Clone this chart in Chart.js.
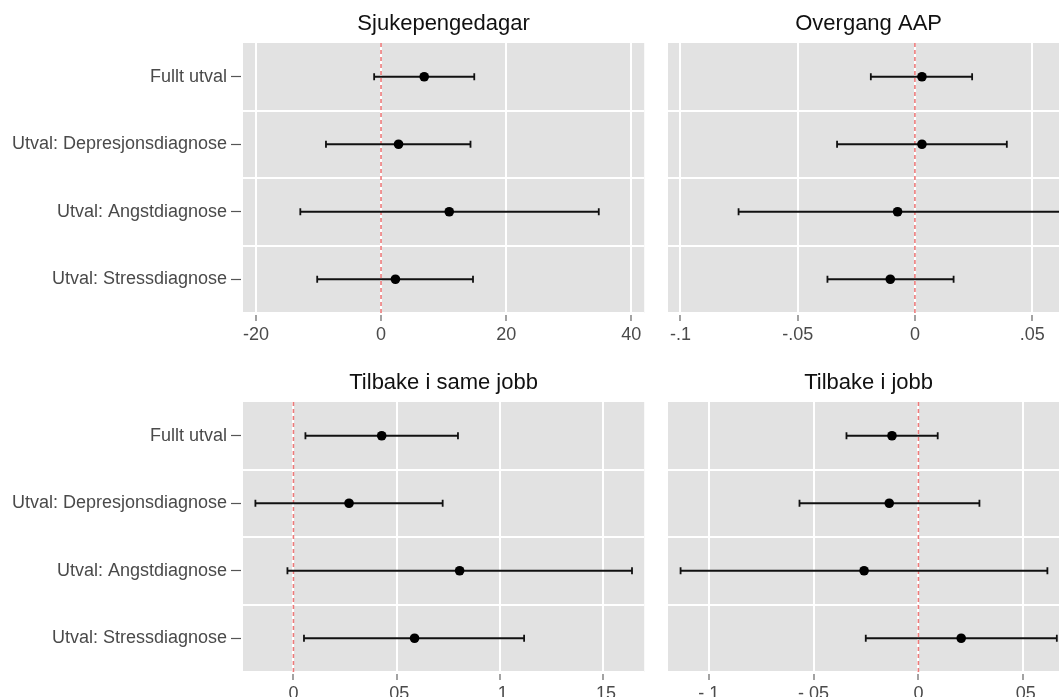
<!DOCTYPE html>
<html>
<head>
<meta charset="utf-8">
<script src="https://cdn.jsdelivr.net/npm/chart.js@4/dist/chart.umd.min.js"></script>
<style>
  html, body { margin: 0; padding: 0; background: #fff; width: 1059px; height: 697px; overflow: hidden; }
  .panel { position: absolute; }
</style>
</head>
<body>
<div class="panel" style="left:0px;top:0px;"><canvas id="c1" width="650" height="345"></canvas></div>
<div class="panel" style="left:650px;top:0px;"><canvas id="c2" width="425" height="345"></canvas></div>
<div class="panel" style="left:0px;top:359px;"><canvas id="c3" width="650" height="345"></canvas></div>
<div class="panel" style="left:650px;top:359px;"><canvas id="c4" width="425" height="345"></canvas></div>
<script>
// ---- data ----
const categories = ['Fullt utval', 'Utval: Depresjonsdiagnose', 'Utval: Angstdiagnose', 'Utval: Stressdiagnose'];

const titles = ['Sjukepengedagar', 'Overgang AAP', 'Tilbake i same jobb', 'Tilbake i jobb'];

const sjukEst = [6.9, 2.8, 10.9, 2.3];
const sjukLo  = [-1.1, -8.8, -12.9, -10.2];
const sjukHi  = [14.9, 14.3, 34.8, 14.7];

const aapEst = [0.0030, 0.0030, -0.0074, -0.0105];
const aapLo  = [-0.0188, -0.0332, -0.0752, -0.0373];
const aapHi  = [0.0244, 0.0392, 0.0640, 0.0165];

const sameEst = [0.0427, 0.0269, 0.0804, 0.0586];
const sameLo  = [0.0058, -0.0184, -0.0029, 0.0051];
const sameHi  = [0.0796, 0.0722, 0.1638, 0.1116];

const jobbEst = [-0.0126, -0.0139, -0.0259, 0.0204];
const jobbLo  = [-0.0343, -0.0567, -0.1134, -0.0251];
const jobbHi  = [0.0092, 0.0291, 0.0615, 0.0660];

const sjukTicks = [-20, 0, 20, 40];
const sjukTickLabels = ['-20', '0', '20', '40'];
const aapTicks = [-0.1, -0.05, 0, 0.05];
const aapTickLabels = ['-.1', '-.05', '0', '.05'];
const sameTicks = [0, 0.05, 0.1, 0.15];
const sameTickLabels = ['0', '.05', '.1', '.15'];
const jobbTicks = [-0.1, -0.05, 0, 0.05];
const jobbTickLabels = ['-.1', '-.05', '0', '.05'];

const sjukRange = [-22.06, 42.06];
const aapRange = [-0.1053, 0.0658];
const sameRange = [-0.0244, 0.1697];
const jobbRange = [-0.1194, 0.0719];

const refValue = 0;

// ---- styling ----
const FONT = "'Liberation Sans', Arial, Helvetica, sans-serif";
const PANEL_BG = '#e2e2e2';
const TEXT_GREY = '#4a4a4a';

const panelBg = {
  id: 'panelBg',
  beforeDraw(chart) {
    const a = chart.chartArea, ctx = chart.ctx;
    ctx.save();
    ctx.fillStyle = PANEL_BG;
    ctx.fillRect(a.left, a.top, a.right - a.left, a.bottom - a.top);
    ctx.restore();
  }
};

const refLine = {
  id: 'refLine',
  beforeDatasetsDraw(chart) {
    const a = chart.chartArea, ctx = chart.ctx;
    const x = chart.scales.x.getPixelForValue(refValue);
    ctx.save();
    ctx.strokeStyle = '#ec7a7a';
    ctx.lineWidth = 1.6;
    ctx.setLineDash([4, 3]);
    ctx.beginPath();
    ctx.moveTo(x, a.top);
    ctx.lineTo(x, a.bottom);
    ctx.stroke();
    ctx.restore();
  }
};

function makeChart(id, title, est, lo, hi, range, ticks, tickLabels, showY) {
  const datasets = [{
    data: categories.map((c, i) => ({ x: est[i], y: c })),
    pointRadius: 4.8,
    pointBackgroundColor: '#000',
    pointBorderWidth: 0,
    showLine: false
  }];
  categories.forEach((c, i) => {
    datasets.push({
      data: [{ x: lo[i], y: c }, { x: hi[i], y: c }],
      showLine: true,
      borderColor: '#111',
      borderWidth: 1.8,
      pointStyle: 'line',
      pointRotation: 90,
      pointRadius: 3.6,
      pointBorderColor: '#111',
      pointBorderWidth: 1.8
    });
  });

  return new Chart(document.getElementById(id), {
    type: 'scatter',
    data: { labels: categories, datasets },
    options: {
      responsive: false,
      animation: false,
      devicePixelRatio: 1,
      layout: { padding: { left: 0, right: 3, top: 0, bottom: 0 } },
      plugins: {
        legend: { display: false },
        tooltip: { enabled: false },
        title: {
          display: true,
          text: title,
          fullSize: false,
          color: '#111',
          font: { family: FONT, size: 22, weight: 'normal', lineHeight: 1.2 },
          padding: { top: 11, bottom: 5.6 }
        }
      },
      scales: {
        x: {
          type: 'linear',
          min: range[0],
          max: range[1],
          afterBuildTicks: (s) => { s.ticks = ticks.map(v => ({ value: v })); },
          afterFit: (s) => { s.height = 32; },
          border: { display: false },
          grid: {
            color: '#ffffff',
            lineWidth: 2,
            tickColor: '#666',
            tickWidth: 1.2,
            tickLength: 8,
            tickBorderDash: [0, 2, 20, 20]
          },
          ticks: {
            autoSkip: false,
            maxRotation: 0,
            padding: 3.5,
            color: TEXT_GREY,
            font: { family: FONT, size: 18 },
            callback: (v, i) => tickLabels[i]
          }
        },
        y: {
          type: 'category',
          labels: categories,
          offset: true,
          position: 'left',
          afterFit: (s) => { s.width = showY ? 243 : 18; },
          border: { display: false },
          grid: {
            offset: false,
            drawOnChartArea: false,
            drawTicks: showY,
            tickLength: 12,
            tickColor: '#555',
            tickWidth: 1.2,
            tickBorderDash: [10, 2]
          },
          ticks: {
            display: showY,
            padding: 4,
            color: TEXT_GREY,
            font: { family: FONT, size: 18 }
          }
        },
        y2: {
          type: 'category',
          labels: categories,
          offset: true,
          position: 'right',
          afterFit: (s) => { s.width = 0; },
          border: { display: false },
          grid: {
            offset: true,
            drawTicks: false,
            lineWidth: 2,
            color: (ctx) => (ctx.index === 0 || ctx.index === categories.length) ? 'rgba(0,0,0,0)' : '#ffffff'
          },
          ticks: { display: false }
        }
      }
    },
    plugins: [panelBg, refLine]
  });
}

makeChart('c1', titles[0], sjukEst, sjukLo, sjukHi, sjukRange, sjukTicks, sjukTickLabels, true);
makeChart('c2', titles[1], aapEst, aapLo, aapHi, aapRange, aapTicks, aapTickLabels, false);
makeChart('c3', titles[2], sameEst, sameLo, sameHi, sameRange, sameTicks, sameTickLabels, true);
makeChart('c4', titles[3], jobbEst, jobbLo, jobbHi, jobbRange, jobbTicks, jobbTickLabels, false);
</script>
</body>
</html>
